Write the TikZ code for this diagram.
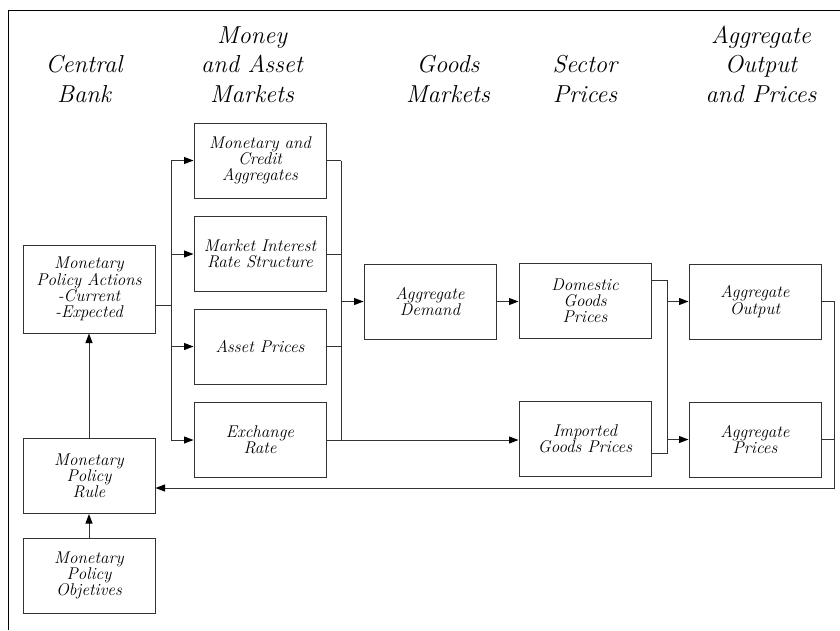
\documentclass[tikz,border=0pt]{standalone}
\usepackage{fontspec}
\usetikzlibrary{arrows.meta,calc}
\tikzset{
  box/.style={draw=black!80, line width=1pt, minimum width=132pt, minimum height=75pt,
    inner sep=2pt, align=center, font=\fontsize{17}{16.2}\selectfont\itshape},
  head/.style={align=center, inner sep=0pt, anchor=base, font=\fontsize{24.5}{29.5}\selectfont\itshape},
  conn/.style={draw=black!80, line width=1pt},
  arr/.style={conn, -{Triangle[length=9.5pt,width=7pt,color=black]}},
}
\begin{document}
\begin{tikzpicture}[x=1pt,y=-1pt]
\useasboundingbox (0,0) rectangle (840,630);
% frame
\draw[line width=1pt] (8,630) -- (8,10) -- (840,10);
% headers (anchor at baseline of last line)
\node[head] (h1) at (84,102) {Central\\Bank};
\node[head] (h2) at (252,102) {Money\\and Asset\\Markets};
\node[head] (h3) at (448,102) {Goods\\Markets};
\node[head] (h4) at (585,102) {Sector\\Prices};
\node[head] (h5) at (761,102) {Aggregate\\Output\\and Prices};
% boxes
\node[box] (mca) at (260,160.5) {Monetary and\\Credit\\Aggregates};
\node[box] (mir) at (260,254) {Market Interest\\Rate Structure};
\node[box] (ap)  at (260,346.5) {Asset Prices};
\node[box] (er)  at (260,440) {Exchange\\Rate};
\node[box, minimum height=88pt] (mpa) at (89,289) {Monetary\\Policy Actions\\-Current\\-Expected};
\node[box] (mpr) at (89,476) {Monetary\\Policy\\Rule};
\node[box] (mpo) at (89,575.5) {Monetary\\Policy\\Objetives};
\node[box] (ad)  at (430,301.5) {Aggregate\\Demand};
\node[box] (dgp) at (585,300.5) {Domestic\\Goods\\Prices};
\node[box] (igp) at (585,438.5) {Imported\\Goods Prices};
\node[box] (ao)  at (755,301.5) {Aggregate\\Output};
\node[box] (apr) at (755,439.5) {Aggregate\\Prices};
% bus coordinates
\coordinate (lbx) at (171,0);
\coordinate (rbx) at (341,0);
\coordinate (mbx) at (667,0);
\coordinate (fbx) at (834,0);
% central bank to markets
\draw[conn] ([yshift=-16pt]mpa.east) -- ([yshift=-16pt]mpa.east -| lbx);
\draw[conn] (mca.west -| lbx) -- (er.west -| lbx);
\foreach \b in {mca,mir,ap,er} {
  \draw[arr] (\b.west -| lbx) -- (\b.west);
  \draw[conn] (\b.east) -- (\b.east -| rbx);
}
\draw[conn] (mca.east -| rbx) -- (er.east -| rbx);
\draw[arr] (rbx |- ad.west) -- (ad.west);
\draw[arr] (er.east -| rbx) -- (er.east -| igp.west);
\draw[arr] (ad.east) -- (ad.east -| dgp.west);
% sector prices to aggregate
\draw[conn] ([yshift=20pt]dgp.east) -- ([yshift=20pt]dgp.east -| mbx) -- ([yshift=-15pt]igp.east -| mbx) -- ([yshift=-15pt]igp.east);
\draw[arr] (mbx |- ao.west) -- (ao.west);
\draw[arr] (mbx |- apr.west) -- (apr.west);
% feedback
\coordinate (fb) at ([yshift=-12pt]mpr.east);
\draw[arr] (ao.east) -- (ao.east -| fbx) -- (fbx |- fb) -- (fb);
\draw[conn] (apr.east) -- (apr.east -| fbx);
% vertical
\draw[arr] (mpo.north) -- (mpr.south);
\draw[arr] (mpr.north) -- (mpa.south);
\end{tikzpicture}
\end{document}
